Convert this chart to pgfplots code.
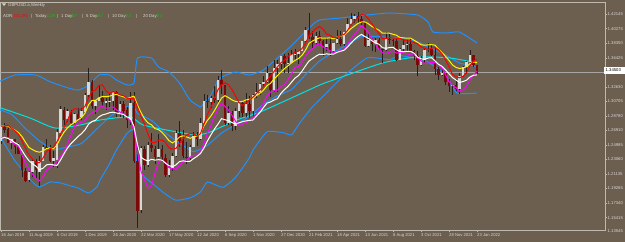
\documentclass[border=0pt]{standalone}
\usepackage{pgfplots}
\pgfplotsset{compat=1.18}
\usepackage{pgfplotstable}
\usepackage{fontspec}
\setmainfont{Liberation Sans}
\definecolor{bg}{RGB}{108,95,79}
\definecolor{fr}{RGB}{190,185,175}
\definecolor{txt}{RGB}{215,215,215}
\definecolor{wick}{RGB}{35,32,30}
\definecolor{dn}{RGB}{125,8,8}
\definecolor{up}{RGB}{215,215,215}
\definecolor{bb}{RGB}{30,144,255}
\definecolor{cy}{RGB}{0,225,225}
\definecolor{mg}{RGB}{255,0,255}
\definecolor{grn}{RGB}{0,200,0}
\definecolor{rd}{RGB}{255,0,0}

% weekly high / low
\pgfplotstableread{
i L H
0 1.2505 1.2750
1 1.2660 1.2784
2 1.2525 1.2726
3 1.2439 1.2572
4 1.2382 1.2580
5 1.2380 1.2524
6 1.2080 1.2370
7 1.2015 1.2200
8 1.2015 1.2152
9 1.2080 1.2310
10 1.2069 1.2310
11 1.1958 1.2350
12 1.2280 1.2500
13 1.2440 1.2580
14 1.2270 1.2500
15 1.2205 1.2412
16 1.2195 1.2710
17 1.2610 1.3012
18 1.2760 1.3000
19 1.2800 1.2976
20 1.2770 1.2960
21 1.2770 1.2920
22 1.2820 1.2985
23 1.2820 1.2985
24 1.2920 1.3180
25 1.3100 1.3515
26 1.2970 1.3350
27 1.2900 1.3080
28 1.3070 1.3285
29 1.3010 1.3210
30 1.2955 1.3120
31 1.3000 1.3170
32 1.2960 1.3210
33 1.2870 1.3210
34 1.2870 1.3070
35 1.2850 1.3070
36 1.2725 1.3000
37 1.2760 1.3200
38 1.2260 1.3200
39 1.1409 1.2485
40 1.1600 1.2485
41 1.2165 1.2485
42 1.2210 1.2540
43 1.2410 1.2650
44 1.2250 1.2480
45 1.2330 1.2645
46 1.2270 1.2500
47 1.2075 1.2380
48 1.2075 1.2295
49 1.2160 1.2390
50 1.2340 1.2700
51 1.2470 1.2810
52 1.2330 1.2690
53 1.2250 1.2540
54 1.2290 1.2500
55 1.2470 1.2670
56 1.2480 1.2670
57 1.2560 1.2850
58 1.2780 1.3170
59 1.2980 1.3150
60 1.2990 1.3140
61 1.3050 1.3270
62 1.3060 1.3400
63 1.3170 1.3480
64 1.2760 1.3290
65 1.2760 1.3010
66 1.2680 1.2950
67 1.2690 1.2980
68 1.2860 1.3060
69 1.2870 1.3080
70 1.2860 1.3180
71 1.2850 1.3140
72 1.2850 1.3170
73 1.3110 1.3310
74 1.3150 1.3310
75 1.3270 1.3400
76 1.3310 1.3540
77 1.3130 1.3450
78 1.3200 1.3620
79 1.3190 1.3620
80 1.3500 1.3670
81 1.3450 1.3700
82 1.3450 1.3710
83 1.3570 1.3750
84 1.3620 1.3760
85 1.3560 1.3740
86 1.3730 1.3870
87 1.3850 1.4050
88 1.3890 1.4240
89 1.3780 1.4000
90 1.3810 1.3990
91 1.3810 1.4000
92 1.3670 1.3880
93 1.3730 1.3910
94 1.3670 1.3920
95 1.3700 1.3840
96 1.3820 1.4010
97 1.3800 1.4000
98 1.3800 1.3990
99 1.3980 1.4170
100 1.4070 1.4230
101 1.4100 1.4220
102 1.4100 1.4250
103 1.4080 1.4200
104 1.3790 1.4130
105 1.3790 1.3970
106 1.3730 1.3900
107 1.3720 1.3910
108 1.3740 1.3910
109 1.3570 1.3790
110 1.3740 1.3980
111 1.3820 1.3960
112 1.3800 1.3890
113 1.3600 1.3890
114 1.3610 1.3770
115 1.3730 1.3890
116 1.3740 1.3880
117 1.3730 1.3910
118 1.3610 1.3750
119 1.3410 1.3730
120 1.3540 1.3670
121 1.3580 1.3780
122 1.3720 1.3840
123 1.3670 1.3830
124 1.3420 1.3780
125 1.3350 1.3520
126 1.3410 1.3510
127 1.3280 1.3450
128 1.3200 1.3370
129 1.3160 1.3280
130 1.3210 1.3370
131 1.3170 1.3440
132 1.3390 1.3540
133 1.3430 1.3600
134 1.3580 1.3750
135 1.3520 1.3686
136 1.3435 1.3555
}\tbhl

% rising weeks: open (b) and close (t)
\pgfplotstableread{
i b t
0 1.2545 1.2742
3 1.2520 1.2574
8 1.2030 1.2141
9 1.2140 1.2285
11 1.2140 1.2290
12 1.2290 1.2477
15 1.2290 1.2330
16 1.2300 1.2670
17 1.2660 1.2970
19 1.2840 1.2940
21 1.2790 1.2900
23 1.2860 1.2940
24 1.2930 1.3150
25 1.3150 1.3330
27 1.3010 1.3070
28 1.3070 1.3110
30 1.3050 1.3070
31 1.3070 1.3080
32 1.3070 1.3200
34 1.2920 1.3040
37 1.2820 1.3050
40 1.1640 1.2460
42 1.2240 1.2500
45 1.2340 1.2440
48 1.2100 1.2200
49 1.2200 1.2350
50 1.2350 1.2660
54 1.2330 1.2470
55 1.2470 1.2610
57 1.2570 1.2790
58 1.2790 1.3080
60 1.3060 1.3120
62 1.3090 1.3350
65 1.2790 1.2920
67 1.2750 1.2950
68 1.2950 1.3050
70 1.2920 1.3040
72 1.2940 1.3150
73 1.3150 1.3190
74 1.3190 1.3300
75 1.3300 1.3320
76 1.3320 1.3440
78 1.3220 1.3510
79 1.3510 1.3560
80 1.3560 1.3670
82 1.3560 1.3580
83 1.3580 1.3690
84 1.3690 1.3700
85 1.3690 1.3740
86 1.3740 1.3860
87 1.3860 1.4010
90 1.3840 1.3930
93 1.3790 1.3830
95 1.3730 1.3840
96 1.3840 1.3890
98 1.3820 1.3990
99 1.3990 1.4090
100 1.4090 1.4150
101 1.4150 1.4190
105 1.3800 1.3880
107 1.3830 1.3880
110 1.3746 1.3890
114 1.3620 1.3760
115 1.3760 1.3810
116 1.3810 1.3830
120 1.3550 1.3610
121 1.3610 1.3750
122 1.3750 1.3760
126 1.3420 1.3440
129 1.3270 1.3280
131 1.3230 1.3400
132 1.3400 1.3530
133 1.3530 1.3590
134 1.3590 1.3680
}\tbup

% falling weeks: close (b) and open (t)
\pgfplotstableread{
i b t
1 1.2697 1.2740
2 1.2525 1.2710
4 1.2467 1.2570
5 1.2383 1.2465
6 1.2163 1.2370
7 1.2025 1.2150
10 1.2162 1.2290
13 1.2450 1.2470
14 1.2290 1.2460
18 1.2830 1.2960
20 1.2780 1.2935
22 1.2840 1.2900
26 1.3010 1.3330
29 1.3060 1.3110
33 1.2910 1.3190
35 1.2950 1.3030
36 1.2820 1.2960
38 1.2280 1.3050
39 1.1630 1.2280
41 1.2240 1.2440
43 1.2460 1.2500
44 1.2340 1.2450
46 1.2340 1.2440
47 1.2100 1.2330
51 1.2550 1.2660
52 1.2350 1.2550
53 1.2330 1.2340
56 1.2570 1.2620
59 1.3060 1.3080
61 1.3090 1.3120
63 1.3280 1.3350
64 1.2790 1.3280
66 1.2750 1.2920
69 1.2920 1.3050
71 1.2940 1.3040
77 1.3220 1.3440
81 1.3560 1.3670
88 1.3920 1.4010
89 1.3840 1.3920
91 1.3870 1.3930
92 1.3790 1.3870
94 1.3730 1.3830
97 1.3820 1.3890
102 1.4160 1.4190
103 1.4100 1.4160
104 1.3800 1.4100
106 1.3830 1.3880
108 1.3760 1.3880
109 1.3746 1.3760
111 1.3880 1.3890
112 1.3870 1.3880
113 1.3620 1.3870
117 1.3740 1.3830
118 1.3670 1.3730
119 1.3550 1.3670
123 1.3680 1.3760
124 1.3500 1.3680
125 1.3420 1.3500
127 1.3330 1.3440
128 1.3270 1.3330
130 1.3230 1.3280
135 1.3549 1.3677
136 1.3450 1.3549
}\tbdn

% red: fast average of highs
\pgfplotstableread{
i v
0 1.2743
1 1.2750
2 1.2757
3 1.2718
4 1.2682
5 1.2637
6 1.2554
7 1.2449
8 1.2365
9 1.2311
10 1.2268
11 1.2264
12 1.2324
13 1.2410
14 1.2448
15 1.2468
16 1.2540
17 1.2643
18 1.2727
19 1.2822
20 1.2932
21 1.2974
22 1.2968
23 1.2965
24 1.3006
25 1.3117
26 1.3203
27 1.3222
28 1.3282
29 1.3288
30 1.3209
31 1.3173
32 1.3199
33 1.3184
34 1.3156
35 1.3146
36 1.3112
37 1.3110
38 1.3108
39 1.2991
40 1.2874
41 1.2771
42 1.2639
43 1.2529
44 1.2528
45 1.2560
46 1.2563
47 1.2531
48 1.2460
49 1.2442
50 1.2453
51 1.2515
52 1.2577
53 1.2626
54 1.2648
55 1.2642
56 1.2614
57 1.2646
58 1.2772
59 1.2902
60 1.2996
61 1.3116
62 1.3226
63 1.3288
64 1.3316
65 1.3290
66 1.3226
67 1.3142
68 1.3058
69 1.3016
70 1.3050
71 1.3088
72 1.3126
73 1.3176
74 1.3222
75 1.3266
76 1.3346
77 1.3402
78 1.3464
79 1.3526
80 1.3580
81 1.3612
82 1.3664
83 1.3690
84 1.3718
85 1.3732
86 1.3766
87 1.3834
88 1.3932
89 1.3980
90 1.4030
91 1.4056
92 1.4022
93 1.3956
94 1.3940
95 1.3910
96 1.3912
97 1.3936
98 1.3952
99 1.4002
100 1.4080
101 1.4122
102 1.4172
103 1.4214
104 1.4206
105 1.4154
106 1.4090
107 1.4022
108 1.3964
109 1.3896
110 1.3898
111 1.3910
112 1.3906
113 1.3902
114 1.3898
115 1.3880
116 1.3864
117 1.3868
118 1.3840
119 1.3832
120 1.3788
121 1.3768
122 1.3754
123 1.3770
124 1.3780
125 1.3750
126 1.3696
127 1.3618
128 1.3526
129 1.3426
130 1.3396
131 1.3382
132 1.3400
133 1.3446
134 1.3540
135 1.3603
136 1.3626
}\tbred

% magenta: fast average of lows
\pgfplotstableread{
i v
0 1.2590
1 1.2601
2 1.2594
3 1.2550
4 1.2502
5 1.2477
6 1.2361
7 1.2259
8 1.2174
9 1.2114
10 1.2052
11 1.2027
12 1.2080
13 1.2165
14 1.2203
15 1.2231
16 1.2278
17 1.2344
18 1.2408
19 1.2514
20 1.2627
21 1.2742
22 1.2784
23 1.2796
24 1.2820
25 1.2886
26 1.2926
27 1.2942
28 1.2992
29 1.3010
30 1.2981
31 1.2987
32 1.2999
33 1.2959
34 1.2931
35 1.2910
36 1.2855
37 1.2815
38 1.2693
39 1.2401
40 1.2151
41 1.2039
42 1.1929
43 1.1959
44 1.2127
45 1.2273
46 1.2294
47 1.2267
48 1.2200
49 1.2182
50 1.2184
51 1.2224
52 1.2275
53 1.2310
54 1.2336
55 1.2362
56 1.2364
57 1.2410
58 1.2516
59 1.2654
60 1.2758
61 1.2872
62 1.2972
63 1.3050
64 1.3006
65 1.2960
66 1.2886
67 1.2812
68 1.2750
69 1.2772
70 1.2792
71 1.2826
72 1.2858
73 1.2908
74 1.2964
75 1.3046
76 1.3138
77 1.3194
78 1.3212
79 1.3220
80 1.3266
81 1.3294
82 1.3358
83 1.3432
84 1.3518
85 1.3530
86 1.3586
87 1.3666
88 1.3730
89 1.3762
90 1.3812
91 1.3828
92 1.3792
93 1.3760
94 1.3738
95 1.3716
96 1.3718
97 1.3744
98 1.3758
99 1.3820
100 1.3894
101 1.3950
102 1.4010
103 1.4066
104 1.4028
105 1.3972
106 1.3898
107 1.3822
108 1.3754
109 1.3710
110 1.3700
111 1.3718
112 1.3734
113 1.3706
114 1.3714
115 1.3712
116 1.3696
117 1.3682
118 1.3684
119 1.3644
120 1.3606
121 1.3574
122 1.3572
123 1.3584
124 1.3586
125 1.3548
126 1.3514
127 1.3426
128 1.3332
129 1.3280
130 1.3252
131 1.3204
132 1.3226
133 1.3272
134 1.3356
135 1.3418
136 1.3471
}\tbmag

% yellow: slower average of highs
\pgfplotstableread{
i v
0 1.2746
1 1.2753
2 1.2748
3 1.2716
4 1.2691
5 1.2661
6 1.2608
7 1.2534
8 1.2464
9 1.2436
10 1.2413
11 1.2402
12 1.2420
13 1.2449
14 1.2458
15 1.2450
16 1.2497
17 1.2591
18 1.2665
19 1.2722
20 1.2765
21 1.2793
22 1.2828
23 1.2857
24 1.2916
25 1.3025
26 1.3084
27 1.3083
28 1.3120
29 1.3136
30 1.3133
31 1.3140
32 1.3153
33 1.3163
34 1.3146
35 1.3132
36 1.3108
37 1.3125
38 1.3139
39 1.3020
40 1.2923
41 1.2843
42 1.2788
43 1.2763
44 1.2712
45 1.2700
46 1.2664
47 1.2612
48 1.2554
49 1.2524
50 1.2556
51 1.2602
52 1.2618
53 1.2604
54 1.2585
55 1.2601
56 1.2613
57 1.2656
58 1.2750
59 1.2822
60 1.2880
61 1.2951
62 1.3033
63 1.3114
64 1.3146
65 1.3121
66 1.3090
67 1.3070
68 1.3068
69 1.3070
70 1.3090
71 1.3099
72 1.3112
73 1.3148
74 1.3178
75 1.3218
76 1.3277
77 1.3308
78 1.3365
79 1.3411
80 1.3458
81 1.3502
82 1.3540
83 1.3578
84 1.3611
85 1.3635
86 1.3677
87 1.3745
88 1.3835
89 1.3865
90 1.3888
91 1.3908
92 1.3903
93 1.3904
94 1.3907
95 1.3895
96 1.3916
97 1.3931
98 1.3942
99 1.3983
100 1.4028
101 1.4063
102 1.4097
103 1.4116
104 1.4118
105 1.4091
106 1.4056
107 1.4030
108 1.4008
109 1.3968
110 1.3970
111 1.3968
112 1.3954
113 1.3942
114 1.3911
115 1.3907
116 1.3902
117 1.3904
118 1.3876
119 1.3849
120 1.3817
121 1.3810
122 1.3815
123 1.3818
124 1.3811
125 1.3758
126 1.3713
127 1.3665
128 1.3611
129 1.3551
130 1.3518
131 1.3504
132 1.3511
133 1.3527
134 1.3568
135 1.3589
136 1.3583
}\tbyel

% white: slower average of lows
\pgfplotstableread{
i v
0 1.2583
1 1.2597
2 1.2584
3 1.2558
4 1.2526
5 1.2500
6 1.2424
7 1.2350
8 1.2289
9 1.2251
10 1.2218
11 1.2171
12 1.2191
13 1.2236
14 1.2242
15 1.2235
16 1.2228
17 1.2298
18 1.2382
19 1.2458
20 1.2515
21 1.2561
22 1.2608
23 1.2647
24 1.2697
25 1.2770
26 1.2806
27 1.2823
28 1.2868
29 1.2894
30 1.2905
31 1.2922
32 1.2929
33 1.2918
34 1.2909
35 1.2898
36 1.2867
37 1.2847
38 1.2740
39 1.2498
40 1.2335
41 1.2304
42 1.2287
43 1.2309
44 1.2298
45 1.2304
46 1.2298
47 1.2258
48 1.2225
49 1.2213
50 1.2236
51 1.2279
52 1.2288
53 1.2281
54 1.2283
55 1.2317
56 1.2347
57 1.2386
58 1.2458
59 1.2553
60 1.2632
61 1.2708
62 1.2772
63 1.2844
64 1.2829
65 1.2817
66 1.2792
67 1.2773
68 1.2789
69 1.2804
70 1.2814
71 1.2821
72 1.2826
73 1.2878
74 1.2927
75 1.2990
76 1.3048
77 1.3063
78 1.3088
79 1.3107
80 1.3178
81 1.3227
82 1.3268
83 1.3323
84 1.3377
85 1.3410
86 1.3468
87 1.3538
88 1.3602
89 1.3634
90 1.3666
91 1.3692
92 1.3688
93 1.3696
94 1.3691
95 1.3693
96 1.3716
97 1.3731
98 1.3744
99 1.3787
100 1.3838
101 1.3886
102 1.3925
103 1.3953
104 1.3923
105 1.3899
106 1.3868
107 1.3841
108 1.3823
109 1.3777
110 1.3770
111 1.3779
112 1.3783
113 1.3750
114 1.3725
115 1.3726
116 1.3728
117 1.3728
118 1.3707
119 1.3653
120 1.3632
121 1.3623
122 1.3641
123 1.3646
124 1.3605
125 1.3559
126 1.3532
127 1.3486
128 1.3434
129 1.3384
130 1.3352
131 1.3319
132 1.3332
133 1.3350
134 1.3392
135 1.3415
136 1.3419
}\tbwht

% cyan: long average
\pgfplotstableread{
i v
-1 1.2990
0 1.2984
8.3 1.2852
15.4 1.2721
22.6 1.2760
28.3 1.2826
36.9 1.2866
40.6 1.2760
50.3 1.2668
56 1.2629
59.7 1.2668
67.4 1.2826
74 1.2931
81.7 1.3089
91.1 1.3287
94.9 1.3352
109 1.3576
118.9 1.3655
128.3 1.3642
136 1.3576
}\tbcya

% Bollinger upper
\pgfplotstableread{
i v
-1 1.3330
0 1.3343
4 1.3418
10 1.3418
14 1.3330
19 1.3250
22 1.3220
25 1.3280
28 1.3418
31 1.3418
33 1.3352
36 1.3287
38 1.3313
39 1.3642
43 1.3642
45 1.3523
48 1.3458
51 1.3313
54 1.3089
57 1.2997
58 1.3050
60 1.3155
62 1.3352
63 1.3392
67 1.3458
71 1.3418
75 1.3484
79 1.3642
82.6 1.3787
84.6 1.3879
88.3 1.4050
91 1.4142
97 1.4168
104.6 1.4208
111 1.4234
119 1.4208
122 1.4116
123.4 1.3984
127.4 1.3971
131 1.3984
136 1.3839
}\tbbbu

% Bollinger middle
\pgfplotstableread{
i v
-1 1.2970
3 1.2900
7 1.2713
11 1.2550
15 1.2435
19 1.2471
23 1.2517
27 1.2693
31 1.2865
35 1.2993
38 1.2995
39 1.2911
43 1.2821
47 1.2654
51 1.2526
55 1.2409
59 1.2495
63 1.2654
67 1.2764
71 1.2873
75 1.3033
79 1.3145
83 1.3228
87 1.3423
91 1.3603
95 1.3715
99 1.3818
103 1.3923
107 1.3927
111 1.3912
115 1.3906
119 1.3856
123 1.3766
127 1.3681
131 1.3576
135 1.3540
136 1.3521
}\tbbbm

% Bollinger lower
\pgfplotstableread{
i v
-1 1.2610
0 1.2587
4 1.2288
9 1.2010
11 1.1944
14 1.2010
17 1.1997
19 1.1970
22 1.1931
25 1.1865
27.4 1.1944
28.3 1.2036
31 1.2250
33 1.2431
36 1.2650
38 1.2687
39 1.2180
43 1.2000
47 1.1850
50 1.1770
54 1.1800
57 1.1880
59 1.2010
63.4 1.1940
67 1.2070
71 1.2330
72 1.2430
76 1.2670
80.6 1.2660
83 1.2630
85.4 1.2790
89 1.3000
91 1.3090
97 1.3366
104.6 1.3642
111 1.3620
114 1.3675
120 1.3620
122 1.3590
126 1.3460
127.4 1.3390
130.3 1.3180
136 1.3180
}\tbbbl

\begin{document}
\begin{tikzpicture}
\path[use as bounding box, fill=bg] (0,-12bp) rectangle (625bp,230bp);
\begin{axis}[
  at={(0,0)}, anchor=south west,
  scale only axis, width=605bp, height=228bp,
  xmin=-0.286, xmax=172.57,
  ymin=1.13782, ymax=1.43790,
  axis line style={fr, line width=0.6bp},
  tick style={fr, line width=0.5bp},
  major tick length=2bp,
  tick align=outside,
  xtick pos=bottom, ytick pos=right,
  xtick={0,8,...,136},
  xticklabels={16 Jun 2019, 11 Aug 2019, 6 Oct 2019, 1 Dec 2019, 26 Jan 2020, 22 Mar 2020, 17 May 2020, 12 Jul 2020, 6 Sep 2020, 1 Nov 2020, 27 Dec 2020, 21 Feb 2021, 18 Apr 2021, 13 Jun 2021, 8 Aug 2021, 3 Oct 2021, 28 Nov 2021, 23 Jan 2022},
  xticklabel style={anchor=north west, inner sep=0.5bp, xshift=-0.5bp, yshift=-1bp, font=\fontsize{4.2}{5}\selectfont, text=txt},
  ytick={1.42145,1.40275,1.38350,1.36425,1.32630,1.30705,1.28780,1.26910,1.24985,1.23060,1.21135,1.19265,1.17340,1.15415},
  yticklabels={1.42145,1.40275,1.38350,1.36425,1.32630,1.30705,1.28780,1.26910,1.24985,1.23060,1.21135,1.19265,1.17340,1.15415},
  yticklabel style={anchor=west, inner sep=0.5bp, font=\fontsize{4.2}{5}\selectfont, text=txt},
  clip=true,
]
\addplot[color=gray!70!white, line width=0.5bp, forget plot] coordinates {(-0.3,1.34503) (172.6,1.34503)};
\addplot[bb, line width=1bp, smooth, tension=0.3] table[x=i,y=v] {\tbbbu};
\addplot[bb, line width=1bp, smooth, tension=0.3] table[x=i,y=v] {\tbbbm};
\addplot[bb, line width=1bp, smooth, tension=0.3] table[x=i,y=v] {\tbbbl};
\addplot[cy, line width=1bp, smooth, tension=0.4] table[x=i,y=v] {\tbcya};
% wicks
\addplot[draw=none, mark=none, error bars/.cd, y dir=plus, y explicit, error mark=none,
  error bar style={draw=wick, line width=0.7bp}]
  table[x=i, y=L, y error expr=\thisrow{H}-\thisrow{L}] {\tbhl};
% bodies
\addplot[draw=none, mark=none, error bars/.cd, y dir=plus, y explicit, error mark=none,
  error bar style={draw=up, line width=2.3bp}]
  table[x=i, y=b, y error expr=\thisrow{t}-\thisrow{b}] {\tbup};
\addplot[draw=none, mark=none, error bars/.cd, y dir=plus, y explicit, error mark=none,
  error bar style={draw=dn, line width=2.3bp}]
  table[x=i, y=b, y error expr=\thisrow{t}-\thisrow{b}] {\tbdn};
\addplot[mg, line width=1bp] table[x=i,y=v] {\tbmag};
\addplot[white, line width=1bp] table[x=i,y=v] {\tbwht};
\addplot[yellow, line width=1bp] table[x=i,y=v] {\tbyel};
\addplot[rd, line width=1bp] table[x=i,y=v] {\tbred};
\end{axis}
\fill[white] (604bp,156bp) rectangle (625bp,163bp);
\node[anchor=west, inner sep=0.5bp, font=\fontsize{4.2}{5}\selectfont, text=black] at (605bp,159.5bp) {1.34503};
\node[anchor=west, inner sep=0.5bp, font=\fontsize{4.2}{5}\selectfont, text=txt] at (607bp,-1.5bp) {1.13545};
\fill[txt] (2bp,226.5bp) -- (6bp,226.5bp) -- (4bp,224bp) -- cycle;
\node[anchor=west, inner sep=0bp, font=\fontsize{4.3}{5}\selectfont, text=txt] at (8bp,225bp) {GBPUSD.a,Weekly};
\begin{scope}[every node/.style={anchor=west, inner sep=0bp, font=\fontsize{4.3}{5}\selectfont}]
\node[text=txt] at (3bp,214bp) {ADR:};
\node[text=rd] at (13bp,214bp) {171.3\%};
\node[text=txt] at (31bp,214bp) {|};
\node[text=txt] at (35bp,214bp) {Today:};
\node[text=grn] at (48bp,214bp) {129};
\node[text=txt] at (57bp,214bp) {|};
\node[text=txt] at (61bp,214bp) {1 Day:};
\node[text=grn] at (72bp,214bp) {87};
\node[text=txt] at (82bp,214bp) {|};
\node[text=txt] at (86bp,214bp) {5 Day:};
\node[text=grn] at (98bp,214bp) {87};
\node[text=txt] at (108bp,214bp) {|};
\node[text=txt] at (112bp,214bp) {10 Day:};
\node[text=grn] at (126bp,214bp) {72};
\node[text=txt] at (136bp,214bp) {|};
\node[text=txt] at (143bp,214bp) {20 Day:};
\node[text=grn] at (157bp,214bp) {74};
\end{scope}
\end{tikzpicture}
\end{document}
